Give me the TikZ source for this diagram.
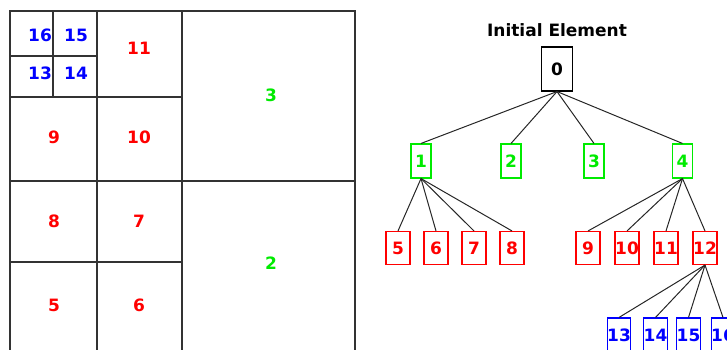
\documentclass[tikz,border=0pt]{standalone}
\usepackage{fontspec}
\setmainfont{DejaVu Sans}
\definecolor{qgreen}{RGB}{0,235,0}
\definecolor{qred}{RGB}{255,0,0}
\definecolor{qblue}{RGB}{0,0,255}
\begin{document}
\begin{tikzpicture}[x=1pt,y=-1pt,
  gridline/.style={line width=1.3pt,black!80},
  lbl/.style={font=\fontsize{17}{17}\selectfont\bfseries,inner sep=0pt},
  tbox/.style={draw,line width=1.1pt,inner sep=0pt,minimum width=20pt,minimum height=34pt,font=\fontsize{17}{17}\selectfont\bfseries},
  wbox/.style={tbox,minimum width=24pt,minimum height=33pt},
  edge/.style={line width=1pt,black!85}]
\useasboundingbox (0,0) rectangle (727,349);
\clip (0,0) rectangle (727,349);
% quadtree plan
\draw[gridline] (10,360) -- (10,11) -- (355,11) -- (355,360);
\draw[gridline] (97,11) -- (97,360);
\draw[gridline] (182,11) -- (182,360);
\draw[gridline] (10,97) -- (182,97);
\draw[gridline] (10,181) -- (355,181);
\draw[gridline] (10,262) -- (182,262);
\draw[gridline] (10,56) -- (97,56);
\draw[gridline] (53,11) -- (53,97);
\node[lbl,qblue] (g16) at (40,35) {16};
\node[lbl,qblue] (g15) at (76,35) {15};
\node[lbl,qblue] (g13) at (40,73) {13};
\node[lbl,qblue] (g14) at (76,73) {14};
\node[lbl,qred] (g11) at (139,48) {11};
\node[lbl,qgreen] (g3) at (271,95) {3};
\node[lbl,qred] (g9) at (54,137) {9};
\node[lbl,qred] (g10) at (139,137) {10};
\node[lbl,qred] (g8) at (54,221) {8};
\node[lbl,qred] (g7) at (139,221) {7};
\node[lbl,qgreen] (g2) at (271,263) {2};
\node[lbl,qred] (g5) at (54,305) {5};
\node[lbl,qred] (g6) at (139,305) {6};
% tree
\node[lbl] (title) at (557,30) {Initial Element};
\node[tbox,minimum width=31pt,minimum height=44pt] (n0) at (557,69) {0};
\node[tbox,qgreen] (n1) at (421,161) {1};
\node[tbox,qgreen] (n2) at (511,161) {2};
\node[tbox,qgreen] (n3) at (594,161) {3};
\node[tbox,qgreen] (n4) at (682.5,161) {4};
\node[wbox,qred] (n5) at (398,248) {5};
\node[wbox,qred] (n6) at (436,248) {6};
\node[wbox,qred] (n7) at (474,248) {7};
\node[wbox,qred] (n8) at (512,248) {8};
\node[wbox,qred] (n9) at (588,248) {9};
\node[wbox,qred] (n10) at (627,248) {10};
\node[wbox,qred] (n11) at (666,248) {11};
\node[wbox,qred] (n12) at (705,248) {12};
\node[tbox,qblue,minimum width=21pt] (n13) at (619,335) {13};
\node[tbox,qblue,minimum width=21pt] (n14) at (655.5,335) {14};
\node[tbox,qblue,minimum width=21pt] (n15) at (688.5,335) {15};
\node[tbox,qblue,minimum width=21pt] (n16) at (723,335) {16};
\foreach \c in {1,2,3,4} \draw[edge] (n0.south) -- (n\c.north);
\foreach \c in {5,6,7,8} \draw[edge] (n1.south) -- (n\c.north);
\foreach \c in {9,10,11,12} \draw[edge] (n4.south) -- (n\c.north);
\foreach \c in {13,14,15,16} \draw[edge] (n12.south) -- (n\c.north);
\end{tikzpicture}
\end{document}
